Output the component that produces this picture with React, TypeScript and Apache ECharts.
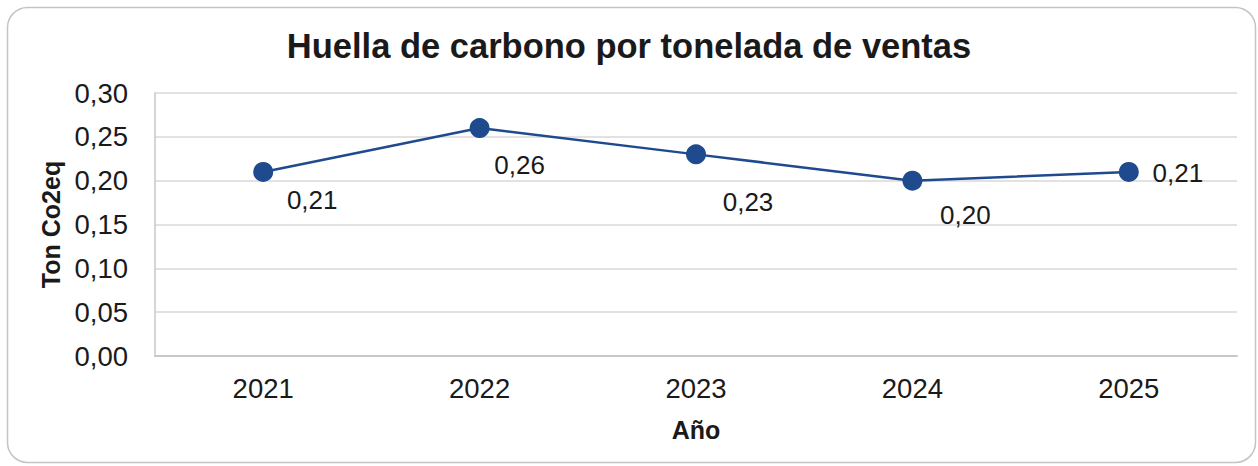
import React, { useEffect, useRef } from "react";
import * as echarts from "echarts";

const titleText = "Huella de carbono por tonelada de ventas";
const years = ["2021", "2022", "2023", "2024", "2025"];
const values = [0.21, 0.26, 0.23, 0.2, 0.21];
const labelOffsets: [number, number][] = [
  [49, 28],
  [40, 37],
  [52, 48],
  [53, 34],
  [49, 1],
];
const yAxisName = "Ton Co2eq";
const xAxisName = "Año";

const fmt = (v: number) => v.toFixed(2).replace(".", ",");

export default function App() {
  const ref = useRef<HTMLDivElement>(null);
  useEffect(() => {
    if (!ref.current) return;
    const chart = echarts.init(ref.current, undefined, { renderer: "svg" });
    const font = "Liberation Sans, Arial, sans-serif";
    chart.setOption({
      animation: false,
      backgroundColor: "#ffffff",
      textStyle: { fontFamily: font },
      graphic: [
        {
          type: "rect",
          shape: { x: 7.5, y: 7.5, width: 1248, height: 455, r: 20 },
          style: { fill: "none", stroke: "#c4c4c4", lineWidth: 1.5 },
          silent: true,
          z: -1,
        },
      ],
      title: {
        text: titleText,
        left: "center",
        top: 23,
        textStyle: { fontFamily: font, fontSize: 34.5, fontWeight: "bold", color: "#1a1a1a" },
      },
      grid: { left: 155, right: 21, top: 93, bottom: 110 },
      xAxis: {
        type: "category",
        data: years,
        boundaryGap: true,
        name: xAxisName,
        nameLocation: "middle",
        nameGap: 61,
        nameTextStyle: { fontFamily: font, fontSize: 25, fontWeight: "bold", color: "#1a1a1a" },
        axisLine: { show: true, lineStyle: { color: "#c8c8c8", width: 2 } },
        axisTick: { show: false },
        axisLabel: { fontFamily: font, fontSize: 27.5, color: "#1a1a1a", margin: 18 },
        splitLine: { show: false },
      },
      yAxis: {
        type: "value",
        min: 0,
        max: 0.3,
        interval: 0.05,
        name: yAxisName,
        nameLocation: "middle",
        nameGap: 92,
        nameRotate: 90,
        nameTextStyle: { fontFamily: font, fontSize: 25, fontWeight: "bold", color: "#1a1a1a" },
        axisLine: { show: true, lineStyle: { color: "#c8c8c8", width: 1.5 } },
        axisTick: { show: false },
        axisLabel: { fontFamily: font, fontSize: 27.5, color: "#1a1a1a", margin: 27, formatter: (v: number) => fmt(v) },
        splitLine: { show: true, lineStyle: { color: "#d9d9d9", width: 1.5 } },
      },
      series: [
        {
          type: "line",
          data: values.map((v, i) => ({
            value: v,
            label: { offset: labelOffsets[i] },
          })),
          symbol: "circle",
          symbolSize: 20,
          lineStyle: { color: "#1f4a8e", width: 2.5 },
          itemStyle: { color: "#1f4a8e" },
          label: {
            show: true,
            position: "inside",
            fontFamily: font,
            fontSize: 26,
            color: "#1a1a1a",
            formatter: (p: any) => fmt(p.value),
          },
        },
      ],
    });
    return () => chart.dispose();
  }, []);
  return (
    <div
      ref={ref}
      style={{ position: "fixed", left: 0, top: 0, width: 1258, height: 466 }}
    />
  );
}
